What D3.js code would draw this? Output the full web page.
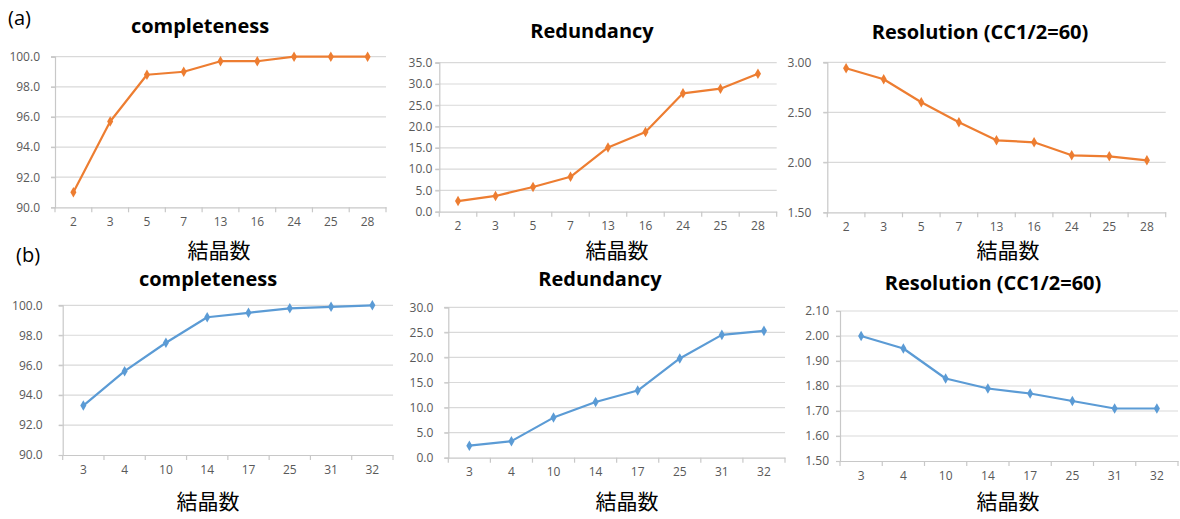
<!DOCTYPE html>
<html>
<head>
<meta charset="utf-8">
<script src="https://cdn.jsdelivr.net/npm/d3@7"></script>
<style>
  html, body { margin: 0; padding: 0; background: #fff; }
  svg { display: block; }
  .tick text { font-family: "Open Sans", sans-serif; font-size: 12px; fill: #595959; }
  .title { font-family: "Open Sans", sans-serif; font-weight: bold; font-size: 20px; fill: #000; }
  .xlabel { font-family: "Noto Sans CJK JP", sans-serif; font-size: 21px; fill: #000; }
  .panel-tag { font-family: "Open Sans", sans-serif; font-size: 20px; fill: #000; }
</style>
</head>
<body>
<script>
// Crystal counts (x categories)
const crystalsA = ["2", "3", "5", "7", "13", "16", "24", "25", "28"];
const crystalsB = ["3", "4", "10", "14", "17", "25", "31", "32"];

// (a) series
const completenessA = [91.0, 95.7, 98.8, 99.0, 99.7, 99.7, 100.0, 100.0, 100.0];
const redundancyA   = [2.5, 3.7, 5.8, 8.2, 15.1, 18.7, 27.8, 28.9, 32.4];
const resolutionA   = [2.94, 2.83, 2.60, 2.40, 2.22, 2.20, 2.07, 2.06, 2.02];

// (b) series
const completenessB = [93.3, 95.6, 97.5, 99.2, 99.5, 99.8, 99.9, 100.0];
const redundancyB   = [2.4, 3.3, 8.0, 11.1, 13.4, 19.8, 24.5, 25.3];
const resolutionB   = [2.00, 1.95, 1.83, 1.79, 1.77, 1.74, 1.71, 1.71];

// y tick values
const ticksCompleteness = [90, 92, 94, 96, 98, 100];
const ticksRedundancyA  = [0, 5, 10, 15, 20, 25, 30, 35];
const ticksResolutionA  = [1.5, 2.0, 2.5, 3.0];
const ticksRedundancyB  = [0, 5, 10, 15, 20, 25, 30];
const ticksResolutionB  = [1.5, 1.6, 1.7, 1.8, 1.9, 2.0, 2.1];

const titleCompleteness = "completeness";
const titleRedundancy = "Redundancy";
const titleResolution = "Resolution (CC1/2=60)";
const xAxisTitle = "結晶数";

const ORANGE = "#ED7D31";
const BLUE = "#5B9BD5";

const W = 1180, H = 519;
const svg = d3.select("body").append("svg").attr("width", W).attr("height", H);

const panels = [
  { cats: crystalsA, vals: completenessA, ticks: ticksCompleteness, fmt: ".1f", title: titleCompleteness, color: ORANGE,
    x0: 55, x1: 386, yT: 56.7, yB: 207.3, gap: 15, tx: 200, ty: 33, lx: 219, ly: 258 },
  { cats: crystalsA, vals: redundancyA, ticks: ticksRedundancyA, fmt: ".1f", title: titleRedundancy, color: ORANGE,
    x0: 439.3, x1: 776.7, yT: 62.7, yB: 211.7, gap: 7, tx: 592, ty: 38, lx: 617, ly: 258 },
  { cats: crystalsA, vals: resolutionA, ticks: ticksResolutionA, fmt: ".2f", title: titleResolution, color: ORANGE,
    x0: 827.3, x1: 1165.7, yT: 62.3, yB: 212.3, gap: 16, tx: 980, ty: 39, lx: 1008, ly: 258 },
  { cats: crystalsB, vals: completenessB, ticks: ticksCompleteness, fmt: ".1f", title: titleCompleteness, color: BLUE,
    x0: 62.7, x1: 393, yT: 305.3, yB: 455, gap: 20, tx: 208, ty: 286, lx: 208, ly: 509 },
  { cats: crystalsB, vals: redundancyB, ticks: ticksRedundancyB, fmt: ".1f", title: titleRedundancy, color: BLUE,
    x0: 448.3, x1: 785, yT: 307.3, yB: 457.7, gap: 15, tx: 600, ty: 286, lx: 627, ly: 509 },
  { cats: crystalsB, vals: resolutionB, ticks: ticksResolutionB, fmt: ".2f", title: titleResolution, color: BLUE,
    x0: 840, x1: 1178, yT: 311, yB: 461, gap: 11, tx: 993, ty: 290, lx: 1008, ly: 509 }
];

const diamond = d3.symbol().type(d3.symbolDiamond).size(32);

panels.forEach(p => {
  const g = svg.append("g");
  const x = d3.scaleBand().domain(p.cats).range([p.x0, p.x1]).paddingInner(0).paddingOuter(0);
  const y = d3.scaleLinear().domain(d3.extent(p.ticks)).range([p.yB, p.yT]);

  // horizontal gridlines
  g.append("g").selectAll("line").data(p.ticks.slice(1)).join("line")
    .attr("x1", p.x0 - 4).attr("x2", p.x1)
    .attr("y1", d => y(d)).attr("y2", d => y(d))
    .attr("stroke", "#d9d9d9").attr("stroke-width", 1.2);

  // y axis
  const ya = g.append("g").attr("transform", `translate(${p.x0},0)`)
    .call(d3.axisLeft(y).tickValues(p.ticks).tickFormat(d3.format(p.fmt)).tickSize(4).tickPadding(p.gap - 4));
  ya.select(".domain").attr("stroke", "#c8c8c8").attr("stroke-width", 1.2);
  ya.selectAll(".tick line").attr("stroke", "#c8c8c8").attr("stroke-width", 1.2);

  // x axis: labels centred in bands, tick marks on band boundaries
  const xa = g.append("g").attr("transform", `translate(0,${p.yB})`)
    .call(d3.axisBottom(x).tickSize(0).tickPadding(10));
  xa.select(".domain").attr("stroke", "#c8c8c8").attr("stroke-width", 1.2);
  const bounds = p.cats.map(c => x(c)).concat([x(p.cats[p.cats.length - 1]) + x.bandwidth()]);
  xa.append("g").selectAll("line").data(bounds).join("line")
    .attr("x1", d => d).attr("x2", d => d).attr("y1", 0).attr("y2", 5)
    .attr("stroke", "#c8c8c8").attr("stroke-width", 1.2);

  // series line and markers
  const cx = i => x(p.cats[i]) + x.bandwidth() / 2;
  g.append("path")
    .datum(p.vals)
    .attr("fill", "none").attr("stroke", p.color).attr("stroke-width", 2.2)
    .attr("stroke-linejoin", "round")
    .attr("d", d3.line().x((d, i) => cx(i)).y(d => y(d)));
  g.append("g").selectAll("path").data(p.vals).join("path")
    .attr("d", diamond)
    .attr("transform", (d, i) => `translate(${cx(i)},${y(d)})`)
    .attr("fill", p.color);

  // titles
  g.append("text").attr("class", "title").attr("x", p.tx).attr("y", p.ty)
    .attr("text-anchor", "middle").text(p.title);
  g.append("text").attr("class", "xlabel").attr("x", p.lx).attr("y", p.ly)
    .attr("text-anchor", "middle").text(xAxisTitle);
});

svg.append("text").attr("class", "panel-tag").attr("x", 8).attr("y", 25).text("(a)");
svg.append("text").attr("class", "panel-tag").attr("x", 16).attr("y", 262).text("(b)");
</script>
</body>
</html>
